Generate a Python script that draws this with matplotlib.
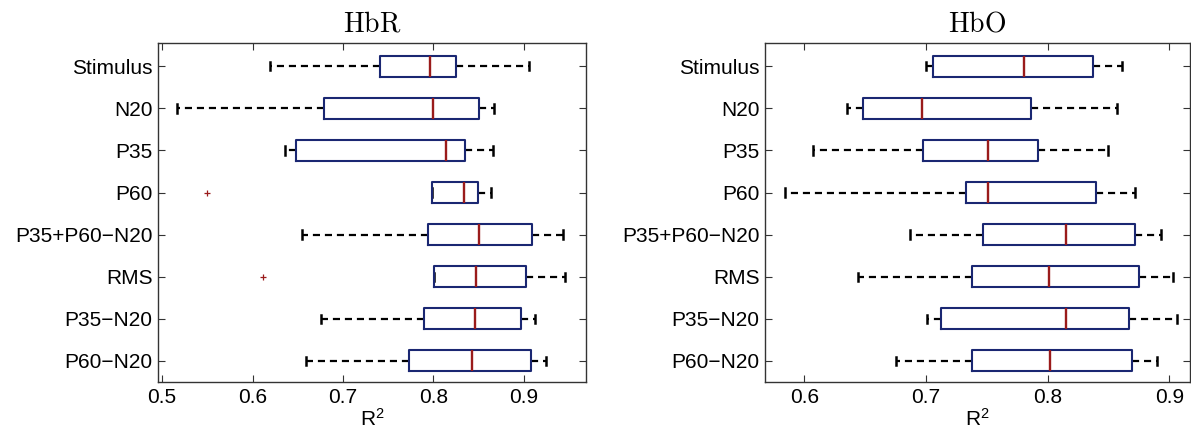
import matplotlib
matplotlib.use("Agg")
import matplotlib.pyplot as plt

plt.rcParams['font.family'] = ['Liberation Sans', 'DejaVu Sans']
plt.rcParams['mathtext.fontset'] = 'custom'
plt.rcParams['mathtext.rm'] = 'Liberation Sans'
plt.rcParams['mathtext.it'] = 'Liberation Sans:italic'

# categories, top to bottom
labels = ['Stimulus', 'N20', 'P35', 'P60', 'P35+P60\u2212N20', 'RMS',
          'P35\u2212N20', 'P60\u2212N20']

# HbR panel
hbr_lo  = [0.619, 0.517, 0.636, 0.799, 0.655, 0.801, 0.676, 0.659]
hbr_q1  = [0.741, 0.679, 0.648, 0.799, 0.794, 0.801, 0.790, 0.773]
hbr_med = [0.796, 0.800, 0.814, 0.834, 0.850, 0.847, 0.846, 0.843]
hbr_q3  = [0.825, 0.850, 0.835, 0.849, 0.909, 0.902, 0.897, 0.908]
hbr_hi  = [0.906, 0.867, 0.866, 0.864, 0.943, 0.946, 0.912, 0.925]
hbr_out = [[], [], [], [0.550], [], [0.612], [], []]

# HbO panel
hbo_lo  = [0.700, 0.635, 0.607, 0.584, 0.687, 0.644, 0.701, 0.675]
hbo_q1  = [0.706, 0.648, 0.698, 0.733, 0.747, 0.738, 0.712, 0.738]
hbo_med = [0.781, 0.697, 0.751, 0.751, 0.815, 0.801, 0.815, 0.802]
hbo_q3  = [0.837, 0.786, 0.792, 0.840, 0.872, 0.875, 0.867, 0.869]
hbo_hi  = [0.861, 0.857, 0.850, 0.872, 0.893, 0.903, 0.906, 0.890]
hbo_out = [[], [], [], [], [], [], [], []]

box_col = '#1a2772'
med_col = '#9a1b1b'

fig = plt.figure(figsize=(11.91, 4.32), dpi=100)
ax1 = fig.add_axes([0.1327, 0.1157, 0.3594, 0.7847])
ax2 = fig.add_axes([0.6423, 0.1157, 0.3568, 0.7847])


def draw(ax, lo, q1, med, q3, hi, out, title, xlim, xticks):
    stats = []
    for i in range(len(labels)):
        stats.append(dict(whislo=lo[i], q1=q1[i], med=med[i], q3=q3[i],
                          whishi=hi[i], fliers=out[i]))
    pos = list(range(len(labels), 0, -1))
    ax.bxp(stats, positions=pos, vert=False, widths=0.5, capwidths=0.2,
           showfliers=True,
           boxprops=dict(color=box_col, linewidth=1.5, zorder=3),
           medianprops=dict(color=med_col, linewidth=1.7, zorder=4),
           whiskerprops=dict(color='black', linewidth=1.6,
                             linestyle=(0, (3.2, 2.2)), zorder=2),
           capprops=dict(color='black', linewidth=1.8, zorder=2),
           flierprops=dict(marker='+', markeredgecolor=med_col,
                           markersize=5, markeredgewidth=0.9))
    ax.set_yticks(pos)
    ax.set_yticklabels(labels)
    ax.set_ylim(0.5, len(labels) + 0.55)
    ax.set_xlim(*xlim)
    ax.set_xticks(xticks)
    ax.set_xticklabels(['%.1f' % t for t in xticks])
    ax.tick_params(axis='both', direction='in', length=5, width=0.8,
                   labelsize=15, top=True, right=True, color='#333333',
                   pad=4)
    for s in ax.spines.values():
        s.set_color('#333333')
        s.set_linewidth(1.0)
    ax.set_title(r'$\mathrm{' + title + '}$', math_fontfamily='cm',
                 fontsize=20, pad=8)
    ax.set_xlabel('R$^2$', fontsize=15, labelpad=1)


draw(ax1, hbr_lo, hbr_q1, hbr_med, hbr_q3, hbr_hi, hbr_out, 'HbR',
     (0.4955, 0.969), [0.5, 0.6, 0.7, 0.8, 0.9])
draw(ax2, hbo_lo, hbo_q1, hbo_med, hbo_q3, hbo_hi, hbo_out, 'HbO',
     (0.5677, 0.917), [0.6, 0.7, 0.8, 0.9])

fig.savefig('out.png', dpi=100)
